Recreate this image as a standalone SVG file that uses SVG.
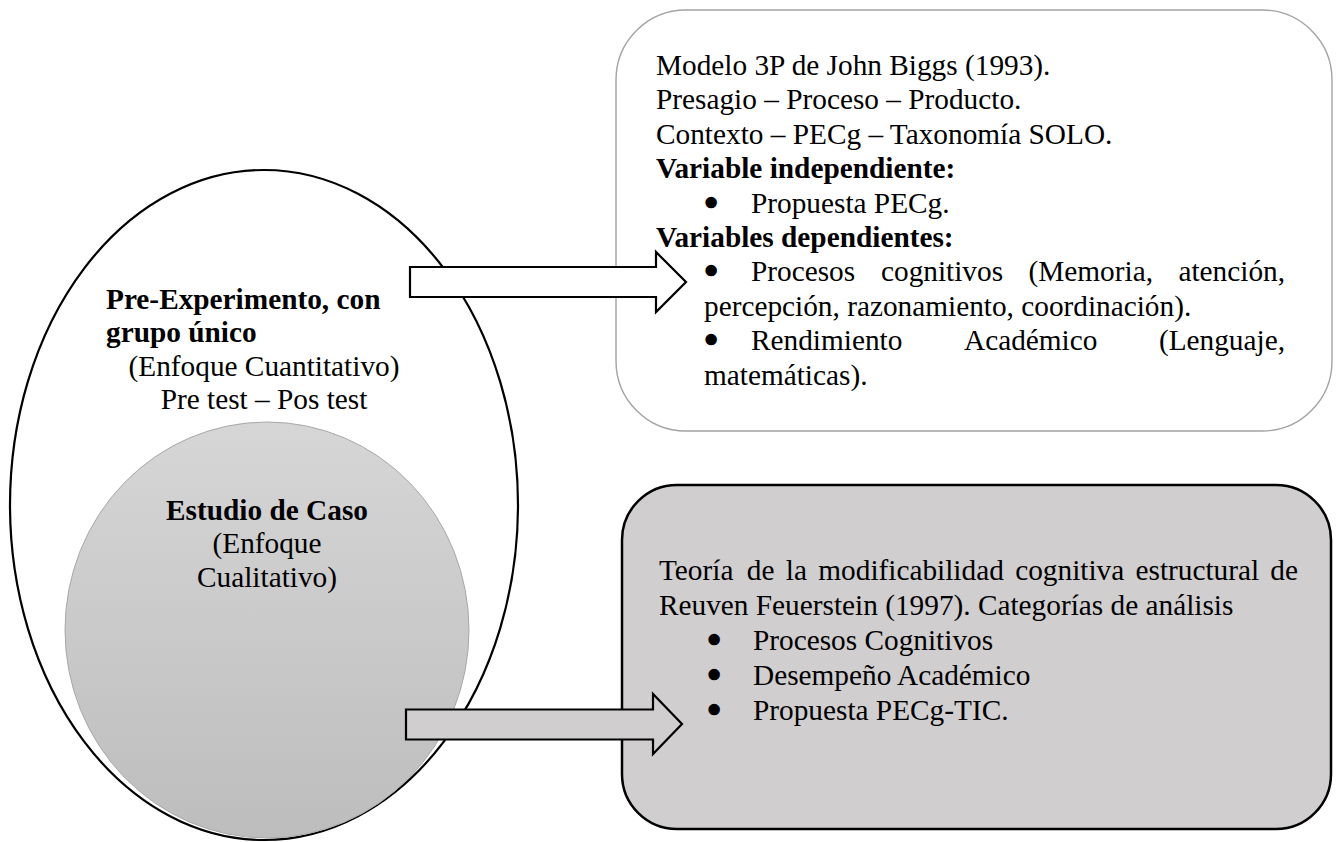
<svg xmlns="http://www.w3.org/2000/svg" width="1340" height="842" viewBox="0 0 1340 842">
  <defs>
    <linearGradient id="caseFill" x1="0" y1="0" x2="0" y2="1">
      <stop offset="0" stop-color="#d6d6d6"/>
      <stop offset="1" stop-color="#bdbdbd"/>
    </linearGradient>
    <style>
      text { font-family: "Liberation Serif", "Times New Roman", serif; font-size: 29.3px; fill: #000; }
      .b { font-weight: bold; }
      .mid { text-anchor: middle; }
      .end { text-anchor: end; }
      .bul { stroke: #000; stroke-width: 4.5; stroke-linejoin: round; }
      .arrow { stroke: #000; stroke-width: 2.2; stroke-linejoin: miter; }
    </style>
  </defs>
  <rect width="1340" height="842" fill="#fff"/>

  <!-- Biggs 3P model box -->
  <g id="model-box">
    <rect x="616" y="10" width="716" height="421" rx="70" ry="70" fill="#fff" stroke="#a3a3a3" stroke-width="1.4"/>
    <text x="656" y="75">Modelo 3P de John Biggs (1993).</text>
    <text x="656" y="109.4">Presagio – Proceso – Producto.</text>
    <text x="656" y="143.8">Contexto – PECg – Taxonomía SOLO.</text>
    <text x="656" y="178.2" class="b">Variable independiente:</text>
    <text x="706" y="212.6" class="bul">•</text>
    <text x="751" y="212.6">Propuesta PECg.</text>
    <text x="656" y="247" class="b">Variables dependientes:</text>
    <text x="706" y="281.4" class="bul">•</text>
    <text y="281.4"><tspan x="751">Procesos</tspan><tspan x="881">cognitivos</tspan><tspan x="1028.5">(Memoria,</tspan></text>
    <text x="1285" y="281.4" class="end">atención,</text>
    <text x="704" y="315.8">percepción, razonamiento, coordinación).</text>
    <text x="706" y="350.2" class="bul">•</text>
    <text y="350.2"><tspan x="751">Rendimiento</tspan><tspan x="964">Académico</tspan></text>
    <text x="1285" y="350.2" class="end">(Lenguaje,</text>
    <text x="704" y="384.6">matemáticas).</text>
  </g>

  <!-- Feuerstein theory box -->
  <g id="theory-box">
    <rect x="622" y="485" width="709" height="344" rx="55" ry="55" fill="#d0cecf" stroke="#000" stroke-width="2.5"/>
    <text y="580"><tspan x="659">Teoría</tspan><tspan x="746.8">de</tspan><tspan x="785.8">la</tspan><tspan x="818.3">modificabilidad</tspan><tspan x="1015.2">cognitiva</tspan><tspan x="1135.5">estructural</tspan></text>
    <text x="1298" y="580" class="end">de</text>
    <text x="659" y="615">Reuven Feuerstein (1997). Categorías de análisis</text>
    <text x="709" y="650" class="bul">•</text>
    <text x="753" y="650">Procesos Cognitivos</text>
    <text x="709" y="685" class="bul">•</text>
    <text x="753" y="685">Desempeño Académico</text>
    <text x="709" y="720" class="bul">•</text>
    <text x="753" y="720">Propuesta PECg-TIC.</text>
  </g>

  <!-- Quantitative design (outer ellipse) -->
  <g id="pre-experiment">
    <ellipse cx="264" cy="505" rx="254" ry="335" fill="#fff" stroke="#000" stroke-width="2.2"/>
    <text x="106" y="309" class="b">Pre-Experimento, con</text>
    <text x="106" y="342" class="b">grupo único</text>
    <text x="264" y="376" class="mid">(Enfoque Cuantitativo)</text>
    <text x="264" y="409" class="mid">Pre test – Pos test</text>
  </g>

  <!-- Qualitative design (inner ellipse) -->
  <g id="case-study">
    <ellipse cx="267" cy="630" rx="202" ry="208" fill="url(#caseFill)" stroke="#a8a8a8" stroke-width="1"/>
    <text x="267" y="520" class="b mid">Estudio de Caso</text>
    <text x="267" y="553" class="mid">(Enfoque</text>
    <text x="267" y="587" class="mid">Cualitativo)</text>
  </g>

  <!-- Block arrows -->
  <g id="connectors">
    <path class="arrow" fill="#fff" d="M410,267 H656 V252 L686,282 L656,312 V297 H410 Z"/>
    <path class="arrow" fill="#d0cecf" d="M406,709.5 H653 V694 L682,724 L653,754 V739.5 H406 Z"/>
  </g>
</svg>
